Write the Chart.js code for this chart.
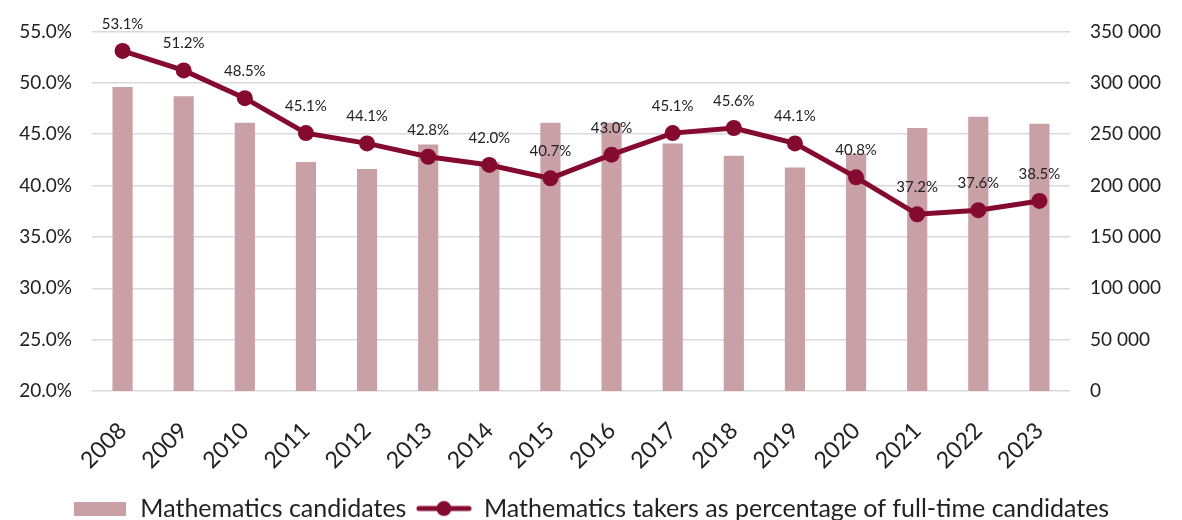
<!DOCTYPE html>
<html>
<head>
<meta charset="utf-8">
<script src="https://cdn.jsdelivr.net/npm/chart.js@4.4.1/dist/chart.umd.min.js"></script>
<style>
html,body{margin:0;padding:0;background:#fff;}
#wrap{width:1182px;height:520px;position:relative;}
</style>
</head>
<body>
<div id="wrap"><canvas id="c"></canvas></div>
<script>
const years = ['2008','2009','2010','2011','2012','2013','2014','2015','2016','2017','2018','2019','2020','2021','2022','2023'];
const candidates = [296000,287000,261000,223000,216000,240000,223000,261000,261000,241000,229000,217500,231000,256000,267000,260000];
const percentTakers = [53.1,51.2,48.5,45.1,44.1,42.8,42.0,40.7,43.0,45.1,45.6,44.1,40.8,37.2,37.6,38.5];
const barLabel = 'Mathematics candidates';
const lineLabel = 'Mathematics takers as percentage of full-time candidates';

const FONT = 'Lato, "Open Sans", sans-serif';
const BAR_COLOR = '#c9a0a6';
const LINE_COLOR = '#850a30';
const TEXT = '#222222';

function makeBarIcon(){
  const c = document.createElement('canvas'); c.width = 52; c.height = 14;
  const x = c.getContext('2d'); x.fillStyle = BAR_COLOR; x.fillRect(0,0,52,14); return c;
}
function makeLineIcon(){
  const c = document.createElement('canvas'); c.width = 56; c.height = 18;
  const x = c.getContext('2d'); x.strokeStyle = LINE_COLOR; x.lineWidth = 5; x.lineCap='round';
  x.beginPath(); x.moveTo(3,9); x.lineTo(53,9); x.stroke();
  x.fillStyle = LINE_COLOR; x.beginPath(); x.arc(28,9,7.5,0,Math.PI*2); x.fill(); return c;
}

const labelPlugin = {
  id: 'pointLabels',
  afterDatasetsDraw(chart){
    const ctx = chart.ctx;
    const meta = chart.getDatasetMeta(1);
    ctx.save();
    ctx.font = '15px ' + FONT;
    ctx.fillStyle = TEXT;
    ctx.textAlign = 'center';
    ctx.textBaseline = 'middle';
    meta.data.forEach((pt, i) => {
      ctx.fillText(percentTakers[i].toFixed(1) + '%', pt.x, pt.y - 27);
    });
    ctx.restore();
  }
};

const legendShift = {
  id: 'legendShift',
  afterLayout(chart){
    const lg = chart.legend;
    if (lg) { lg.top += 11; lg.bottom += 11; }
  }
};

new Chart(document.getElementById('c'), {
  data: {
    labels: years,
    datasets: [
      { type: 'bar', label: barLabel, data: candidates, backgroundColor: BAR_COLOR, yAxisID: 'y1', order: 2,
        barPercentage: 0.33, categoryPercentage: 1.0 },
      { type: 'line', label: lineLabel, data: percentTakers, borderColor: LINE_COLOR, backgroundColor: LINE_COLOR,
        borderWidth: 5, pointRadius: 8, pointHoverRadius: 8, pointBackgroundColor: LINE_COLOR, pointBorderWidth: 0,
        tension: 0, yAxisID: 'y', order: 1 }
    ]
  },
  options: {
    responsive: true, maintainAspectRatio: false, animation: false,
    layout: { padding: { top: 10, left: 0, right: 0, bottom: 0 } },
    plugins: {
      tooltip: { enabled: false },
      legend: {
        position: 'bottom',
        labels: {
          usePointStyle: true, pointStyleWidth: 55, boxHeight: 16,
          font: { family: FONT, size: 25 }, color: TEXT, padding: 10,
          generateLabels(chart){
            return [
              { text: barLabel, pointStyle: makeBarIcon(), datasetIndex: 0, fontColor: TEXT, lineWidth: 0, strokeStyle: 'rgba(0,0,0,0)', fillStyle: BAR_COLOR },
              { text: lineLabel, pointStyle: makeLineIcon(), datasetIndex: 1, fontColor: TEXT, lineWidth: 0, strokeStyle: 'rgba(0,0,0,0)', fillStyle: LINE_COLOR }
            ];
          }
        }
      }
    },
    scales: {
      x: {
        grid: { display: false, drawTicks: false },
        border: { display: false },
        ticks: { font: { family: FONT, size: 23 }, color: TEXT, minRotation: 45, maxRotation: 45, padding: 26 },
        afterFit(scale){ scale.height = scale.chart.height - scale.chart.legend.height - 391; }
      },
      y: {
        position: 'left', min: 20, max: 55,
        grid: { color: '#d9d9d9', lineWidth: 1.5, drawTicks: false },
        border: { display: false },
        ticks: { stepSize: 5, font: { family: FONT, size: 19 }, color: TEXT, padding: 20,
          callback: v => v.toFixed(1) + '%' },
        afterFit(scale){ scale.width = 92; }
      },
      y1: {
        position: 'right', min: 0, max: 350000,
        grid: { display: false, drawTicks: false },
        border: { display: false },
        ticks: { stepSize: 50000, font: { family: FONT, size: 19 }, color: TEXT, padding: 20,
          callback: v => String(v).replace(/\B(?=(\d{3})+(?!\d))/g, ' ') },
        afterFit(scale){ scale.width = 112; }
      }
    }
  },
  plugins: [labelPlugin, legendShift]
});
</script>
</body>
</html>
